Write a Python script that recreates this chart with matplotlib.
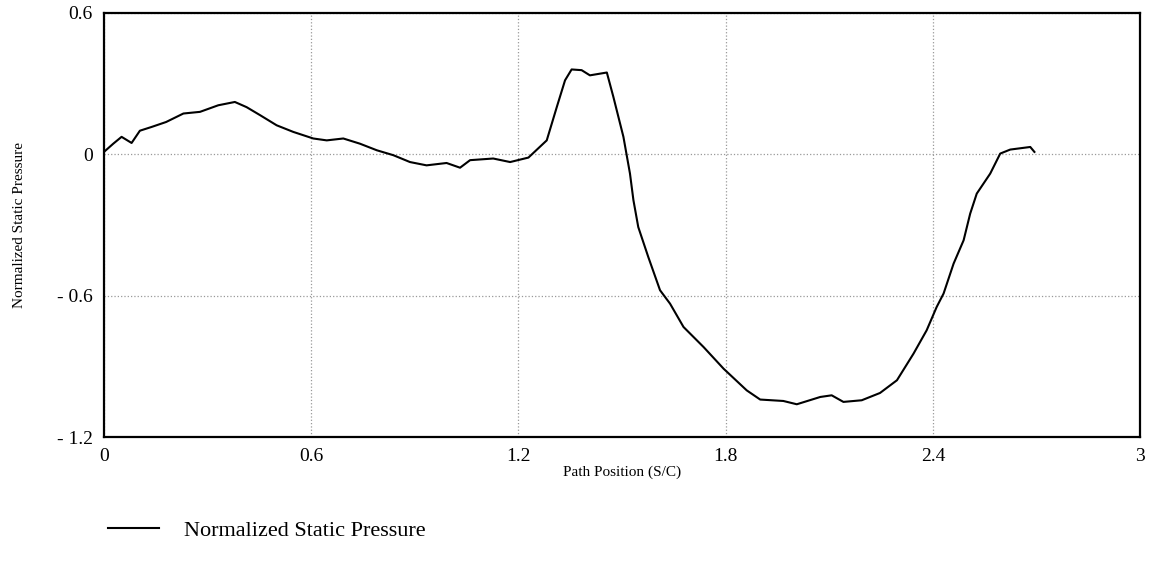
import matplotlib.pyplot as plt

# Path position (S/C) and normalized static pressure
path_pos = [0.0, 0.027, 0.051, 0.080, 0.104, 0.138, 0.18, 0.23, 0.278, 0.331,
            0.379, 0.413, 0.452, 0.50, 0.548, 0.606, 0.645, 0.693, 0.741, 0.79,
            0.838, 0.886, 0.934, 0.992, 1.031, 1.06, 1.127, 1.176, 1.229, 1.282,
            1.311, 1.335, 1.354, 1.383, 1.407, 1.456, 1.475, 1.504, 1.523, 1.533,
            1.547, 1.576, 1.61, 1.639, 1.678, 1.736, 1.794, 1.861, 1.90, 1.967,
            2.006, 2.074, 2.107, 2.141, 2.194, 2.247, 2.296, 2.344, 2.382, 2.411,
            2.431, 2.46, 2.489, 2.508, 2.527, 2.566, 2.595, 2.624, 2.682, 2.694]
pressure = [0.01, 0.045, 0.074, 0.048, 0.10, 0.116, 0.137, 0.173, 0.18, 0.208,
            0.222, 0.20, 0.166, 0.123, 0.095, 0.067, 0.059, 0.067, 0.045, 0.017,
            -0.004, -0.033, -0.047, -0.037, -0.057, -0.025, -0.018, -0.033, -0.014, 0.059,
            0.20, 0.314, 0.36, 0.357, 0.335, 0.347, 0.243, 0.074, -0.082, -0.195,
            -0.309, -0.436, -0.577, -0.634, -0.733, -0.818, -0.91, -1.002, -1.041, -1.047,
            -1.061, -1.03, -1.023, -1.051, -1.044, -1.013, -0.959, -0.846, -0.747, -0.648,
            -0.591, -0.464, -0.365, -0.252, -0.167, -0.082, 0.003, 0.02, 0.031, 0.01]

x_ticks = [0, 0.6, 1.2, 1.8, 2.4, 3]
x_labels = ['0', '0.6', '1.2', '1.8', '2.4', '3']
y_ticks = [-1.2, -0.6, 0, 0.6]
y_labels = ['- 1.2', '- 0.6', '0', '0.6']

plt.rcParams['font.family'] = ['Liberation Serif', 'DejaVu Serif']

fig = plt.figure(figsize=(11.59, 5.61), dpi=100)
ax = fig.add_axes([0.0897, 0.221, 0.894, 0.756])

line, = ax.plot(path_pos, pressure, color='black', linewidth=1.5)

ax.set_xlim(0, 3)
ax.set_ylim(-1.2, 0.6)
ax.set_xticks(x_ticks)
ax.set_xticklabels(x_labels)
ax.set_yticks(y_ticks)
ax.set_yticklabels(y_labels)
ax.tick_params(length=0, labelsize=14, pad=8)

# dotted grid
ax.grid(True, color='#999999', linestyle=':', linewidth=0.9)

for side in ['left', 'bottom', 'top', 'right']:
    ax.spines[side].set_linewidth(1.6)

ax.set_xlabel('Path Position (S/C)', fontsize=11, labelpad=0)
ax.set_ylabel('Normalized Static Pressure', fontsize=11, labelpad=22)

fig.legend([line], ['Normalized Static Pressure'], loc='lower left',
           bbox_to_anchor=(0.076, 0.0), frameon=False, fontsize=16,
           handlelength=2.3, handletextpad=1.1)

plt.savefig('out.png', dpi=100)
